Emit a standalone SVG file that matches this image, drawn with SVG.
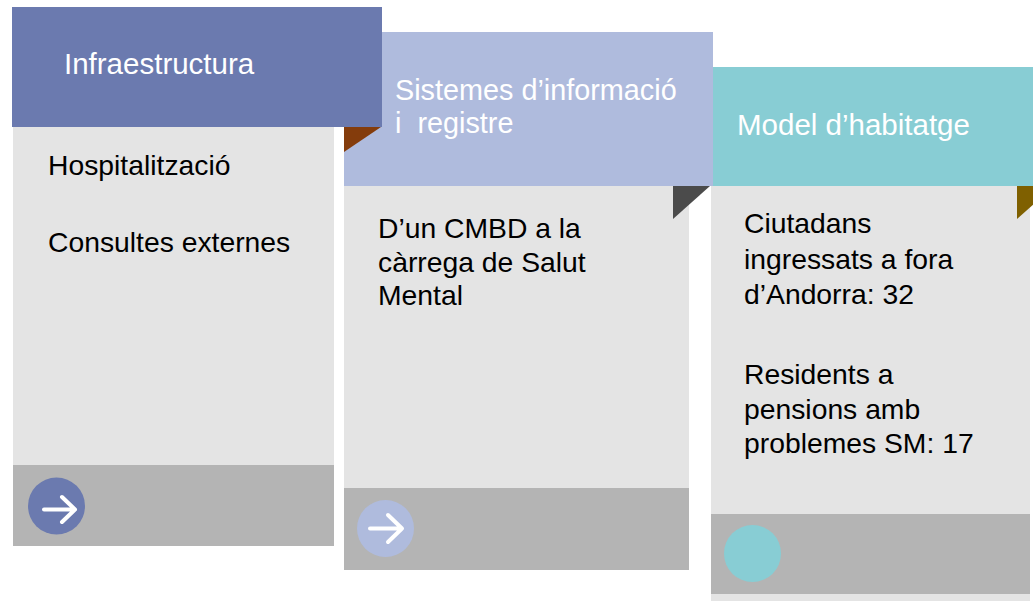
<svg xmlns="http://www.w3.org/2000/svg" width="1033" height="601" viewBox="0 0 1033 601">
<style>
.body{fill:#e4e4e4}
.band{fill:#b4b4b4}
.ht{font-family:"Liberation Sans",Arial,sans-serif;font-size:29.5px;fill:#ffffff}
.ht2{font-size:28.8px}
.bt{font-family:"Liberation Sans",Arial,sans-serif;font-size:28.3px;fill:#000000}
.arr{fill:none;stroke:#ffffff;stroke-width:4;stroke-linecap:round;stroke-linejoin:round}
</style>
<rect width="1033" height="601" fill="#ffffff"/>
<g id="panel3-body">
<rect class="body" x="711" y="186" width="319" height="415"/>
<rect class="band" x="711" y="514" width="319" height="80"/>
<circle cx="752.5" cy="553.5" r="28.5" fill="#88cdd4"/>
<text class="bt" x="744" y="233">Ciutadans</text>
<text class="bt" x="744" y="269">ingressats a fora</text>
<text class="bt" x="744" y="304">d’Andorra: 32</text>
<text class="bt" x="744" y="384">Residents a</text>
<text class="bt" x="744" y="419">pensions amb</text>
<text class="bt" x="744" y="453">problemes SM: 17</text>
</g>
<g id="panel2-body">
<rect class="body" x="344" y="186" width="345" height="384"/>
<rect class="band" x="344" y="488" width="345" height="82"/>
<circle cx="385.5" cy="528.5" r="28.5" fill="#afbbdd"/>
<path class="arr" d="M370 528.5H402M388 515L402 528.5L388 542"/>
<text class="bt" x="378" y="238">D’un CMBD a la</text>
<text class="bt" x="378" y="272">càrrega de Salut</text>
<text class="bt" x="378" y="305">Mental</text>
</g>
<g id="panel1-body">
<rect class="body" x="13" y="127" width="321" height="419"/>
<rect class="band" x="13" y="465" width="321" height="81"/>
<circle cx="56.5" cy="506" r="28.5" fill="#6b7aaf"/>
<path class="arr" d="M44 509.5H75M62 497L75 509.5L62 522"/>
<text class="bt" x="48" y="175">Hospitalització</text>
<text class="bt" x="48" y="252">Consultes externes</text>
</g>
<g id="folds-low">
<polygon points="673,186 710,186 673,219" fill="#4b4b4b"/>
<polygon points="1017,186 1054,186 1017,219" fill="#7f6000"/>
</g>
<g id="panel3-header">
<rect x="712" y="67" width="321" height="119" fill="#88cdd4"/>
<text class="ht" x="737" y="135">Model d’habitatge</text>
</g>
<g id="panel2-header">
<rect x="344" y="32" width="369" height="154" fill="#afbbdd"/>
<text class="ht ht2" x="395" y="100">Sistemes d’informació</text>
<text class="ht ht2" x="395" y="133" xml:space="preserve">i  registre</text>
</g>
<g id="fold-high">
<polygon points="344,127 381,127 344,152" fill="#843c0c"/>
</g>
<g id="panel1-header">
<rect x="12" y="7" width="370" height="120" fill="#6b7aaf"/>
<text class="ht" x="64" y="74">Infraestructura</text>
</g>
</svg>
